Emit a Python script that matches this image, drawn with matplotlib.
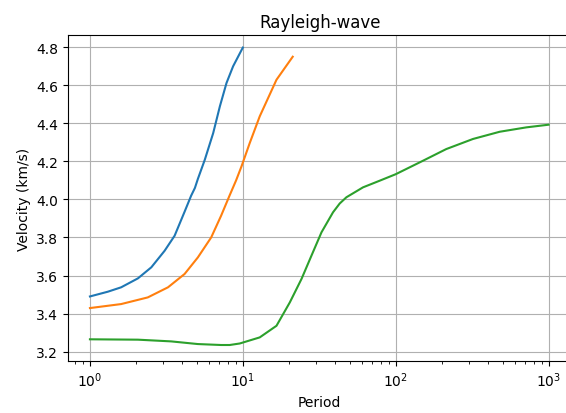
import matplotlib
matplotlib.use("Agg")
import matplotlib.pyplot as plt

# dispersion picks per mode: period (s) and phase velocity (km/s)
mode0_period = [1.0, 1.31, 1.60, 2.06, 2.52, 3.08, 3.58, 4.16, 4.59, 4.86, 5.08, 5.64,
                6.40, 7.08, 7.82, 8.64, 10.0]
mode0_vel = [3.49, 3.515, 3.538, 3.585, 3.643, 3.73, 3.809, 3.935, 4.019, 4.06, 4.107, 4.208,
             4.348, 4.489, 4.611, 4.699, 4.797]

mode1_period = [1.0, 1.60, 2.39, 3.24, 4.16, 5.08, 6.21, 7.21, 8.18, 9.04, 9.80, 11.1,
                12.9, 16.6, 21.2]
mode1_vel = [3.429, 3.45, 3.485, 3.538, 3.608, 3.695, 3.80, 3.914, 4.019, 4.10, 4.173, 4.296,
             4.436, 4.628, 4.749]

mode2_period = [1.0, 2.06, 3.40, 5.08, 7.21, 8.2, 9.55, 12.9, 16.6, 20.3, 24.2, 28.1, 32.7,
                38.9, 43.0, 47.6, 61.1, 78.6, 100, 151, 214, 320, 479, 715, 1000]
mode2_vel = [3.265, 3.263, 3.254, 3.24, 3.235, 3.235, 3.243, 3.275, 3.336, 3.459, 3.582, 3.704,
             3.827, 3.932, 3.978, 4.011, 4.063, 4.098, 4.132, 4.203, 4.264, 4.317, 4.355, 4.378,
             4.392]

fig = plt.figure(figsize=(5.66, 4.14), dpi=100)
ax = fig.add_axes([0.120, 0.1256, 0.8898, 0.7874])

ax.plot(mode0_period, mode0_vel)
ax.plot(mode1_period, mode1_vel)
ax.plot(mode2_period, mode2_vel)

ax.set_xscale('log')
ax.set_xlim(10 ** -0.144, 10 ** 3.15)
ax.set_ylim(3.151, 4.863)
ax.spines['right'].set_visible(False)
ax.grid(True)
ax.set_xlabel('Period')
ax.set_ylabel('Velocity (km/s)')
ax.set_title('Rayleigh-wave')

fig.savefig('out.png', dpi=100)
